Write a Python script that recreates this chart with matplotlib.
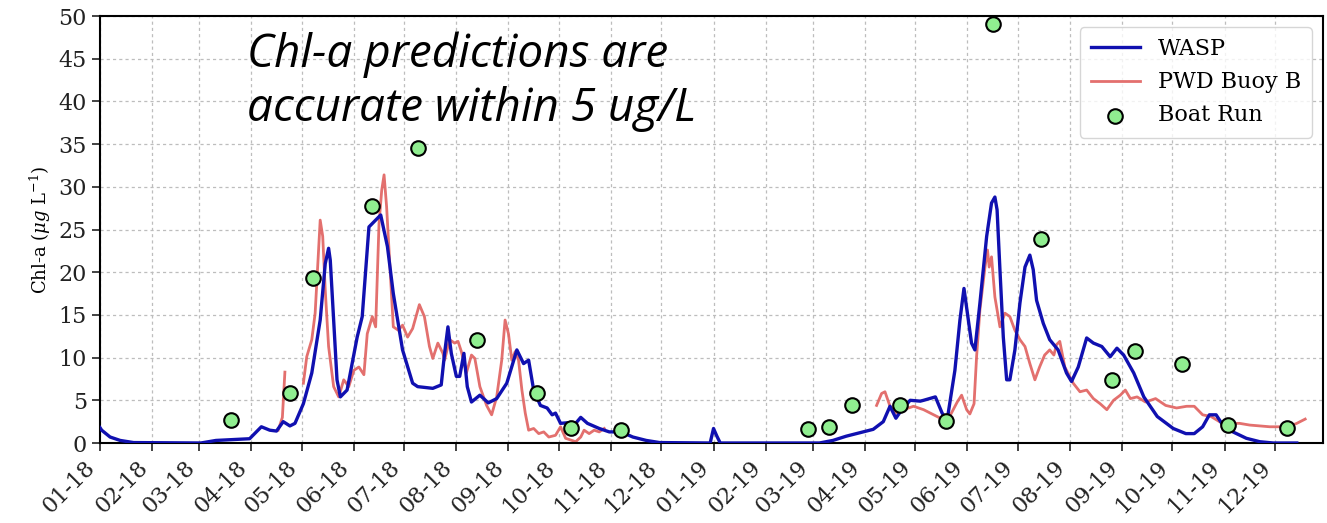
import numpy as np
import pandas as pd
import matplotlib
matplotlib.use('Agg')
import matplotlib.pyplot as plt
import matplotlib.dates as mdates

# days counted from 2018-01-01
start = pd.Timestamp('2018-01-01')

wasp_day = [0, 1, 6, 12, 20, 60, 69, 89, 96, 101,
            105, 109, 113, 116, 121, 126, 131, 134, 136, 137,
            139, 141, 143, 147, 153, 156, 160, 163, 167, 171,
            174.5, 180, 186, 189, 198, 203, 205, 207, 209, 212,
            214, 216.5, 218.5, 221, 226, 231, 236, 242, 248, 252,
            255, 258, 262, 266, 269, 271, 274, 280, 283, 286,
            290, 297, 303, 310, 317, 325, 333, 363, 365, 367,
            369, 428, 436, 444, 452, 460, 466, 470, 473.5, 477,
            482, 488, 490, 497, 501, 504, 508.6, 511.6, 514, 516.6,
            518.5, 520.5, 523.5, 527.5, 530.4, 532.4, 533.7, 535.4, 537.4, 539.4,
            541.3, 544.3, 547.3, 550.3, 553.2, 555.2, 557.2, 561.2, 565, 570,
            575, 578, 582, 587, 591, 596, 601, 605, 609, 615,
            621, 629, 638.5, 646, 651, 656, 660, 664, 668, 674,
            682, 690, 698, 712]
wasp_val = [1.8, 1.5, 0.7, 0.3, 0.05, 0.0, 0.3, 0.5, 1.9, 1.5,
            1.4, 2.5, 2.0, 2.3, 4.6, 8.2, 14.4, 21.0, 22.8, 21.4,
            14.4, 7.4, 5.4, 6.2, 12.4, 14.8, 25.3, 25.9, 26.7, 23.0,
            17.5, 10.9, 7.0, 6.6, 6.4, 6.8, 10.5, 13.6, 10.5, 7.8,
            7.8, 10.5, 6.6, 4.8, 5.6, 4.7, 5.2, 7.0, 10.9, 9.3,
            9.7, 6.2, 4.4, 4.1, 3.3, 3.5, 2.3, 2.4, 2.3, 3.0,
            2.3, 1.7, 1.3, 1.3, 0.7, 0.3, 0.05, 0.0, 1.7, 0.8,
            0.0, 0.0, 0.3, 0.8, 1.2, 1.6, 2.5, 4.3, 2.9, 3.9,
            5.0, 4.9, 5.0, 5.4, 3.5, 2.7, 8.5, 14.4, 18.1, 14.4,
            11.7, 10.9, 16.4, 24.2, 28.1, 28.8, 27.3, 20.3, 12.4, 7.4,
            7.4, 10.9, 16.4, 20.6, 22.0, 20.3, 16.7, 14.0, 12.1, 10.9,
            8.2, 7.2, 8.9, 12.3, 11.7, 11.3, 10.1, 11.1, 10.3, 8.2,
            5.4, 3.1, 1.7, 1.1, 1.1, 1.9, 3.3, 3.3, 2.1, 1.3,
            0.55, 0.15, 0.0, 0.0]

pwd_day = [106, 108.5, 110, 115, 121, 123, 126, 128, 131, 132.5,
           134, 136, 139, 142, 145, 148, 151, 154, 157, 159,
           162, 164, 166, 167.6, 169, 170.5, 172.5, 174.5, 177.5, 180,
           183, 186, 190, 193, 196, 198, 201, 204, 205, 208,
           211, 213, 215, 218, 221, 223, 226, 230, 233, 236,
           239, 241, 243, 245, 247, 249, 251, 253, 255, 258,
           261, 264, 267, 271, 274, 277, 280, 283, 286, 288,
           291, 294, 297, 300, 380, 462, 465, 467, 470, 474,
           478, 484, 490, 496, 500, 506, 510, 512.6, 515.6, 517.5,
           520, 521.5, 523.5, 526.5, 528, 529, 530.4, 532.4, 535.4, 538.4,
           541.3, 544.3, 547.3, 550.3, 553.2, 556.2, 559, 562, 565, 567.5,
           569, 571, 574, 579, 583, 587, 591, 595, 599, 603,
           607, 610, 613, 617, 622, 628, 634, 640.5, 646.5, 651,
           656, 661, 666, 672, 678, 684, 690, 696, 702, 707,
           712, 717]
pwd_val = [1.5, 3.0, 8.3, np.nan, 7.0, 10.1, 12.1, 15.2, 26.1, 24.2,
           17.9, 11.3, 6.6, 5.4, 7.4, 6.6, 8.5, 8.9, 8.0, 12.8,
           14.8, 13.6, 25.7, 29.6, 31.4, 27.7, 20.6, 13.6, 13.2, 13.8,
           12.4, 13.4, 16.2, 14.8, 11.3, 9.9, 11.7, 10.5, 9.7, 12.1,
           11.7, 11.9, 10.7, 8.2, 10.3, 9.9, 6.6, 4.4, 3.3, 5.4,
           9.7, 14.4, 12.8, 9.7, 10.7, 9.7, 6.2, 3.5, 1.5, 1.7,
           1.1, 1.3, 0.7, 0.9, 1.9, 0.55, 0.35, 0.15, 0.7, 1.5,
           1.1, 1.5, 1.3, 1.7, np.nan, 4.4, 5.8, 6.0, 4.3, 3.5,
           3.9, 4.3, 3.9, 3.3, 2.9, 3.3, 4.8, 5.6, 3.9, 3.4,
           4.6, 10.1, 15.6, 20.6, 22.6, 20.6, 21.8, 17.1, 13.6, 15.2,
           14.8, 13.2, 12.1, 11.3, 9.3, 7.4, 8.9, 10.3, 10.9, 10.3,
           11.5, 11.9, 8.9, 7.0, 6.0, 6.2, 5.2, 4.6, 3.9, 5.0,
           5.6, 6.2, 5.2, 5.4, 4.8, 5.2, 4.4, 4.1, 4.3, 4.3,
           3.3, 3.1, 2.5, 2.3, 2.3, 2.1, 2.0, 1.9, 1.9, 1.9,
           2.3, 2.8]

boat_day = [78, 113, 126.5, 161.6, 189.4, 224.5, 259.8, 280, 310, 421, 433.7,
            447.5, 476, 503.6, 531, 559.6, 602, 615.7, 643.5, 671, 706]
boat_val = [2.7, 5.8, 19.3, 27.7, 34.5, 12.1, 5.8, 1.7, 1.5, 1.6, 1.9,
            4.45, 4.45, 2.6, 49.1, 23.85, 7.4, 10.8, 9.25, 2.1, 1.7]

def to_dates(days):
    return start + pd.to_timedelta(np.array(days), unit='D')

plt.rcParams['font.family'] = 'DejaVu Serif'
plt.rcParams['mathtext.fontset'] = 'dejavuserif'

fig = plt.figure(figsize=(13.27, 5.23), dpi=100)
ax = fig.add_axes([100/1327, 80/523, 1223/1327, 427/523])

ax.plot(to_dates(wasp_day), wasp_val, color='#1010b0', lw=2.4, label='WASP', zorder=3)
ax.plot(to_dates(pwd_day), pwd_val, color='#e0605e', lw=2.0, alpha=0.9, label='PWD Buoy B', zorder=2)
ax.scatter(to_dates(boat_day), boat_val, s=110, facecolor='#90ee90', edgecolor='black',
           linewidth=1.5, label='Boat Run', zorder=4)

ax.set_xlim(start, start + pd.Timedelta(days=727.6))
ax.set_ylim(0, 50)
ax.set_yticks(range(0, 51, 5))
ax.xaxis.set_major_locator(mdates.MonthLocator())
ax.xaxis.set_major_formatter(mdates.DateFormatter('%m-%y'))
plt.setp(ax.get_xticklabels(), rotation=45, ha='right')
ax.tick_params(labelsize=16, length=6, width=1.2, colors='#222222')
ax.grid(True, linestyle=(0, (2.5, 2.5)), color='#bdbdbd', lw=0.9)
for s in ax.spines.values():
    s.set_linewidth(1.5)

ax.set_ylabel(r'Chl-a ($\mu g$ L$^{-1}$)', fontsize=13)
ax.legend(loc='upper right', fontsize=16, handlelength=2.2, borderpad=0.5)

fig.text(247/1327, 1 - 31/523, 'Chl-a predictions are\naccurate within 5 ug/L',
         family='Open Sans', style='italic', fontsize=33, va='top', ha='left',
         linespacing=1.25)

fig.savefig('out.png', dpi=100)
